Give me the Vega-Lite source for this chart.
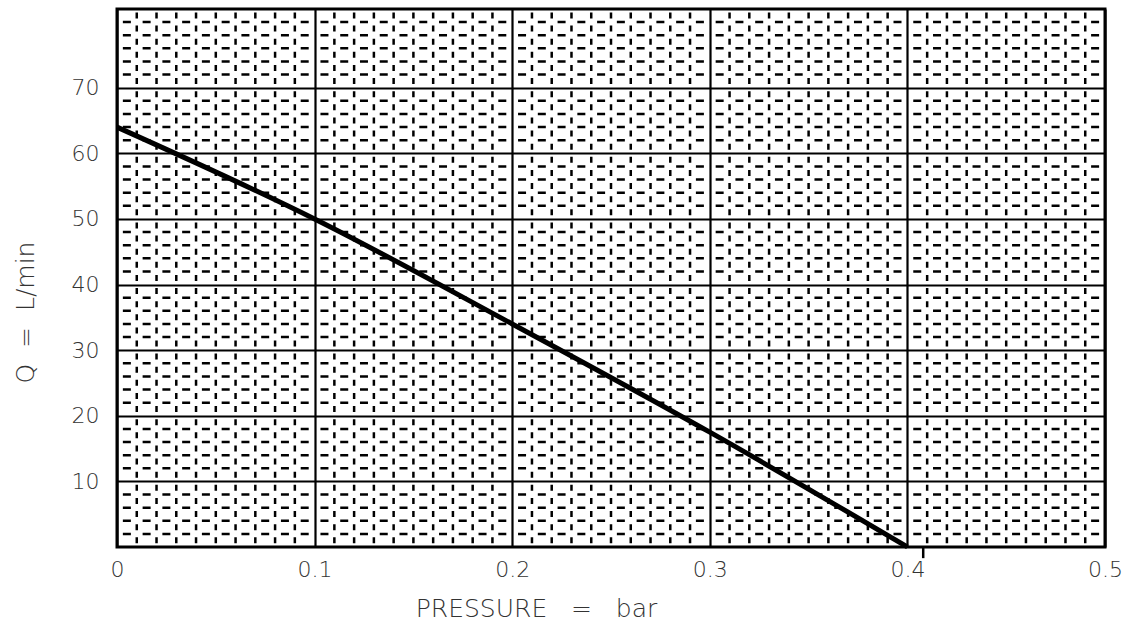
{
  "$schema": "https://vega.github.io/schema/vega-lite/v6.json",
  "width": 988,
  "height": 538,
  "autosize": {"type": "none"},
  "padding": {"left": 117, "top": 9, "right": 24, "bottom": 86},
  "background": "white",
  "config": {
    "view": {"stroke": "black", "strokeWidth": 3},
    "axis": {
      "domain": false,
      "ticks": false,
      "tickSize": 0,
      "grid": true,
      "gridColor": "black",
      "gridWidth": 2.2,
      "gridOpacity": 1,
      "labelFont": "DejaVu Sans",
      "labelFontWeight": 200,
      "labelFontSize": 22,
      "labelColor": "#333",
      "labelFlush": false,
      "titleFont": "DejaVu Sans",
      "titleFontSize": 25,
      "titleFontWeight": 200,
      "titleColor": "#333"
    }
  },
  "datasets": {
    "curve": [
      {"pressure": 0.0, "q": 64},
      {"pressure": 0.1, "q": 50},
      {"pressure": 0.2, "q": 34},
      {"pressure": 0.3, "q": 17.5},
      {"pressure": 0.4, "q": 0}
    ],
    "hminor": [
      {"q": 2}, {"q": 4}, {"q": 6}, {"q": 8},
      {"q": 12}, {"q": 14}, {"q": 16}, {"q": 18},
      {"q": 22}, {"q": 24}, {"q": 26}, {"q": 28},
      {"q": 32}, {"q": 34}, {"q": 36}, {"q": 38},
      {"q": 42}, {"q": 44}, {"q": 46}, {"q": 48},
      {"q": 52}, {"q": 54}, {"q": 56}, {"q": 58},
      {"q": 62}, {"q": 64}, {"q": 66}, {"q": 68},
      {"q": 72}, {"q": 74}, {"q": 76}, {"q": 78}, {"q": 80}
    ],
    "vminor": [
      {"p": 0.01}, {"p": 0.02}, {"p": 0.03}, {"p": 0.04}, {"p": 0.05}, {"p": 0.06}, {"p": 0.07}, {"p": 0.08}, {"p": 0.09},
      {"p": 0.11}, {"p": 0.12}, {"p": 0.13}, {"p": 0.14}, {"p": 0.15}, {"p": 0.16}, {"p": 0.17}, {"p": 0.18}, {"p": 0.19},
      {"p": 0.21}, {"p": 0.22}, {"p": 0.23}, {"p": 0.24}, {"p": 0.25}, {"p": 0.26}, {"p": 0.27}, {"p": 0.28}, {"p": 0.29},
      {"p": 0.31}, {"p": 0.32}, {"p": 0.33}, {"p": 0.34}, {"p": 0.35}, {"p": 0.36}, {"p": 0.37}, {"p": 0.38}, {"p": 0.39},
      {"p": 0.41}, {"p": 0.42}, {"p": 0.43}, {"p": 0.44}, {"p": 0.45}, {"p": 0.46}, {"p": 0.47}, {"p": 0.48}, {"p": 0.49}
    ],
    "stray": [
      {"p": 0.408, "q0": 0, "q1": -1.7}
    ]
  },
  "layer": [
    {
      "data": {"name": "hminor"},
      "mark": {"type": "rule", "color": "black", "strokeWidth": 2.5, "strokeDash": [8, 11.76], "strokeDashOffset": -5.9},
      "encoding": {
        "y": {"field": "q", "type": "quantitative", "scale": {"domain": [0, 82], "nice": false, "zero": false},
          "axis": {"values": [10, 20, 30, 40, 50, 60, 70], "labelPadding": 18, "title": "Q\u00a0\u00a0=\u00a0\u00a0L/min", "titleX": -92, "titleY": 303, "titleAlign": "center", "titleBaseline": "middle"}}
      }
    },
    {
      "data": {"name": "vminor"},
      "mark": {"type": "rule", "color": "black", "strokeWidth": 2.5, "strokeDash": [6, 7.12], "strokeDashOffset": -3.5},
      "encoding": {
        "x": {"field": "p", "type": "quantitative", "scale": {"domain": [0, 0.5], "nice": false, "zero": false},
          "axis": {"values": [0, 0.1, 0.2, 0.3, 0.4, 0.5], "format": ".1~f", "labelPadding": 12, "title": "PRESSURE\u00a0\u00a0\u00a0=\u00a0\u00a0\u00a0bar", "titleX": 419, "titleY": 69, "titleAlign": "center", "titleBaseline": "alphabetic"}}
      }
    },
    {
      "data": {"name": "stray"},
      "mark": {"type": "rule", "color": "black", "strokeWidth": 2.5, "clip": false},
      "encoding": {
        "x": {"field": "p", "type": "quantitative"},
        "y": {"field": "q0", "type": "quantitative"},
        "y2": {"field": "q1"}
      }
    },
    {
      "data": {"name": "curve"},
      "mark": {"type": "line", "color": "black", "strokeWidth": 5, "interpolate": "monotone"},
      "encoding": {
        "x": {"field": "pressure", "type": "quantitative"},
        "y": {"field": "q", "type": "quantitative"}
      }
    }
  ]
}
